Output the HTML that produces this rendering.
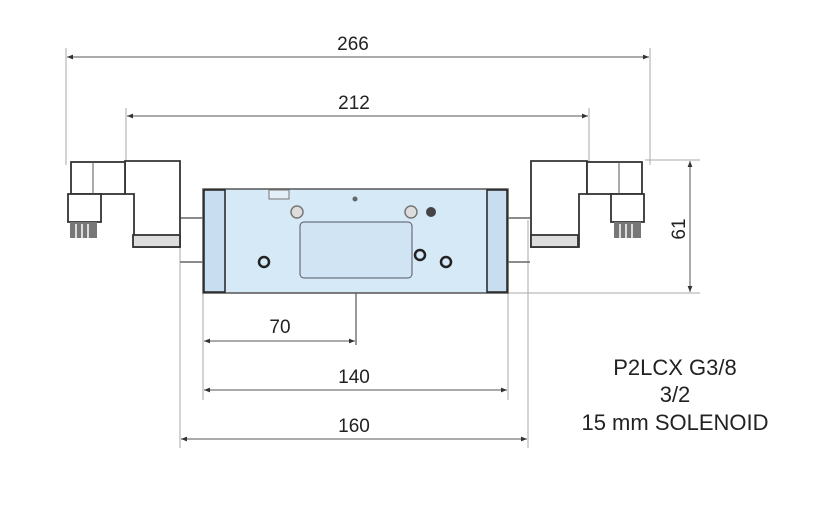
<!DOCTYPE html>
<html><head><style>
body{margin:0;background:#fff;}
svg{display:block;font-family:"Liberation Sans",sans-serif;}
</style></head><body>
<svg width="813" height="532" viewBox="0 0 813 532">
<defs>
<marker id="a" viewBox="0 0 10 10" refX="10" refY="5" markerWidth="8" markerHeight="6" orient="auto-start-reverse"><path d="M0,1 L10,5 L0,9 z" fill="#333"/></marker>
</defs>
<g stroke="#aaa" stroke-width="1" fill="none">
<line x1="66" y1="48" x2="66" y2="165"/>
<line x1="650" y1="48" x2="650" y2="165"/>
<line x1="126" y1="108" x2="126" y2="165"/>
<line x1="589" y1="108" x2="589" y2="165"/>
<line x1="180" y1="220" x2="180" y2="448"/>
<line x1="528" y1="220" x2="528" y2="448"/>
<line x1="203" y1="293" x2="203" y2="400"/>
<line x1="508" y1="293" x2="508" y2="400"/>
<line x1="645" y1="160" x2="700" y2="160"/>
<line x1="508" y1="293" x2="700" y2="293"/>
</g>
<g stroke="#555" stroke-width="1" marker-start="url(#a)" marker-end="url(#a)">
<line x1="67" y1="57" x2="649" y2="57"/>
<line x1="127" y1="116" x2="588" y2="116"/>
<line x1="204" y1="341" x2="355" y2="341"/>
<line x1="204" y1="390" x2="507" y2="390"/>
<line x1="181" y1="439" x2="527" y2="439"/>
<line x1="690" y1="161" x2="690" y2="292"/>
</g>
<line x1="356" y1="195" x2="356" y2="345" stroke="#333"/>
<g font-size="19" fill="#222" text-anchor="middle">
<text x="353" y="50">266</text>
<text x="354" y="109">212</text>
<text x="280" y="333">70</text>
<text x="354" y="383">140</text>
<text x="354" y="432">160</text>
<text x="0" y="0" transform="translate(685,229) rotate(-90)">61</text>
<text x="675" y="375" font-size="22">P2LCX G3/8</text>
<text x="675" y="402" font-size="22">3/2</text>
<text x="675" y="430" font-size="22">15 mm SOLENOID</text>
</g>
<!-- body -->
<rect x="203" y="189" width="305" height="104" fill="#d6e9f7" stroke="#555" stroke-width="1.5"/>
<rect x="204" y="190" width="21" height="102" fill="#c8def0" stroke="#222" stroke-width="1.5"/>
<rect x="487" y="190" width="20" height="102" fill="#c8def0" stroke="#222" stroke-width="1.5"/>
<rect x="269" y="190" width="20" height="9" fill="#e4eef7" stroke="#777"/>
<rect x="300" y="222" width="112" height="56" rx="4" fill="#d0e4f3" stroke="#556"/>
<g fill="none" stroke="#222" stroke-width="2.5">
<circle cx="264" cy="262" r="5"/><circle cx="420" cy="255" r="5"/><circle cx="446" cy="262" r="5"/>
</g>
<g fill="#ddd" stroke="#777" stroke-width="1.5">
<circle cx="297" cy="212" r="6"/><circle cx="411" cy="212" r="6"/>
</g>
<circle cx="431" cy="212" r="5" fill="#444"/>
<circle cx="355" cy="199" r="2.5" fill="#666"/>
<!-- tubes -->
<g stroke="#666" stroke-width="1.5">
<line x1="180" y1="218" x2="203" y2="218"/><line x1="180" y1="262" x2="203" y2="262"/>
<line x1="508" y1="218" x2="530" y2="218"/><line x1="508" y1="262" x2="530" y2="262"/>
</g>
<!-- left solenoid -->
<g fill="#fff" stroke="#333" stroke-width="1.8">
<path d="M125,161 H180 V247 H134 V194 H125 Z"/>
<rect x="71" y="162" width="54" height="32"/>
<rect x="68" y="194" width="33" height="28"/>
<rect x="133" y="235" width="47" height="12" fill="#ddd"/>
</g>
<line x1="93" y1="162" x2="93" y2="194" stroke="#555"/>
<g fill="#777"><rect x="70" y="222" width="27" height="16"/></g>
<g stroke="#fff" stroke-width="1.5"><line x1="76" y1="224" x2="76" y2="238"/><line x1="82" y1="224" x2="82" y2="238"/><line x1="88" y1="224" x2="88" y2="238"/></g>
<!-- right solenoid -->
<g fill="#fff" stroke="#333" stroke-width="1.8">
<path d="M531,161 H587 V194 H579 V247 H531 Z"/>
<rect x="587" y="162" width="55" height="32"/>
<rect x="611" y="194" width="33" height="28"/>
<rect x="531" y="235" width="47" height="12" fill="#ddd"/>
</g>
<line x1="619" y1="162" x2="619" y2="194" stroke="#555"/>
<g fill="#777"><rect x="614" y="222" width="27" height="16"/></g>
<g stroke="#fff" stroke-width="1.5"><line x1="620" y1="224" x2="620" y2="238"/><line x1="626" y1="224" x2="626" y2="238"/><line x1="632" y1="224" x2="632" y2="238"/></g>
</svg>
</body></html>
